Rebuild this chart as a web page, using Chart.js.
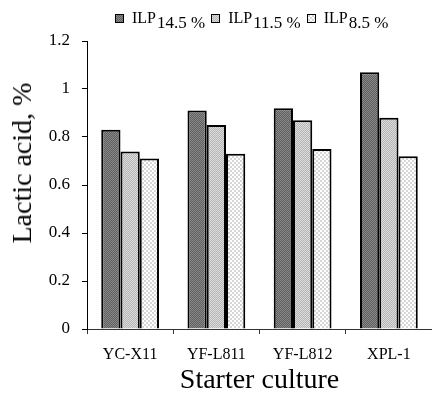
<!DOCTYPE html>
<html>
<head>
<meta charset="utf-8">
<script src="https://cdn.jsdelivr.net/npm/chart.js@4.4.1/dist/chart.umd.min.js"></script>
<style>
  html, body { margin: 0; padding: 0; background: #fff; }
  #wrap { position: relative; width: 432px; height: 397px; }
  #legend {
    position: absolute; top: 10px; left: 115px;
    display: flex; font-family: 'Liberation Serif', 'Times New Roman', serif; color: #000;
  }
  .item { display: flex; align-items: flex-start; margin-right: 6px; }
  .box { width: 7px; height: 7px; border: 1px solid #000; margin-top: 4px; margin-right: 8px; }
  .main { font-size: 16px; line-height: 15px; }
  .sub { font-size: 17px; line-height: 17px; position: relative; top: 4px; margin-left: 1px; }
  #ytitle {
    position: absolute; left: 22px; top: 163px;
    transform: translate(-50%, -50%) rotate(-90deg);
    white-space: nowrap;
    font-family: 'Liberation Serif', 'Times New Roman', serif; font-size: 28px; color: #000;
  }
</style>
</head>
<body>
<div id="wrap">
  <canvas id="chart" width="432" height="397"></canvas>
  <div id="legend"></div>
  <div id="ytitle">Lactic acid, %</div>
</div>
<script>
// Starter cultures on the x axis
const categories = ['YC-X11', 'YF-L811', 'YF-L812', 'XPL-1'];
// Lactic acid (%) for each ILP level
const seriesPrefix = 'ILP';
const seriesNames = ['14.5 %', '11.5 %', '8.5 %'];
const ilp145 = [0.83, 0.91, 0.92, 1.07];
const ilp115 = [0.74, 0.85, 0.87, 0.88];
const ilp85 = [0.71, 0.73, 0.75, 0.72];
// Y axis ticks
const yTicks = [0, 0.2, 0.4, 0.6, 0.8, 1, 1.2];

const FONT = "'Liberation Serif', 'Times New Roman', serif";

// Small checker tiles used as bar fills
function makeTile(a, b, cell) {
  const c = document.createElement('canvas');
  c.width = cell * 2; c.height = cell * 2;
  const g = c.getContext('2d');
  g.fillStyle = a; g.fillRect(0, 0, cell * 2, cell * 2);
  g.fillStyle = b;
  g.fillRect(0, 0, cell, cell);
  g.fillRect(cell, cell, cell, cell);
  return c;
}
const tiles = [
  makeTile('#5e5e5e', '#8a8a8a', 1),
  makeTile('#b4b4b4', '#dedede', 1),
  makeTile('#ffffff', '#d6d6d6', 2)
];
const ctx = document.getElementById('chart').getContext('2d');
const fills = tiles.map(t => ctx.createPattern(t, 'repeat'));
const seriesValues = [ilp145, ilp115, ilp85];

const datasets = seriesNames.map((name, i) => ({
  label: seriesPrefix + ' ' + name,
  data: seriesValues[i],
  backgroundColor: fills[i],
  borderColor: '#000',
  borderWidth: 2,
  borderSkipped: 'bottom',
  barPercentage: 1,
  categoryPercentage: 0.67
}));

// HTML legend with subscripted level
const legend = document.getElementById('legend');
seriesNames.forEach((name, i) => {
  const item = document.createElement('span');
  item.className = 'item';
  const box = document.createElement('span');
  box.className = 'box';
  box.style.backgroundImage = 'url(' + tiles[i].toDataURL() + ')';
  const main = document.createElement('span');
  main.className = 'main';
  main.textContent = seriesPrefix;
  const sub = document.createElement('span');
  sub.className = 'sub';
  sub.textContent = name;
  item.append(box, main, sub);
  legend.appendChild(item);
});

new Chart(ctx, {
  type: 'bar',
  data: { labels: categories, datasets },
  options: {
    responsive: false,
    animation: false,
    layout: { padding: { top: 41, right: 0, bottom: 0, left: 0 } },
    plugins: { legend: { display: false }, tooltip: { enabled: false } },
    scales: {
      x: {
        afterFit: s => { s.height = 68; },
        border: { display: true, color: '#333', width: 1 },
        grid: { offset: true, drawOnChartArea: false, drawTicks: true, tickLength: 5, color: '#333' },
        ticks: { color: '#000', font: { family: FONT, size: 16 }, padding: 11 },
        title: { display: true, text: 'Starter culture', color: '#000', font: { family: FONT, size: 28 }, padding: { top: 0, bottom: 0 } }
      },
      y: {
        min: 0, max: 1.2,
        afterFit: s => { s.width = 87; },
        afterBuildTicks: s => { s.ticks = yTicks.map(v => ({ value: v })); },
        border: { display: true, color: '#000', width: 1 },
        grid: { drawOnChartArea: false, drawTicks: true, tickLength: 5, color: '#000' },
        ticks: { color: '#000', font: { family: FONT, size: 17 }, padding: 12, callback: v => String(v) }
      }
    }
  }
});
</script>
</body>
</html>
